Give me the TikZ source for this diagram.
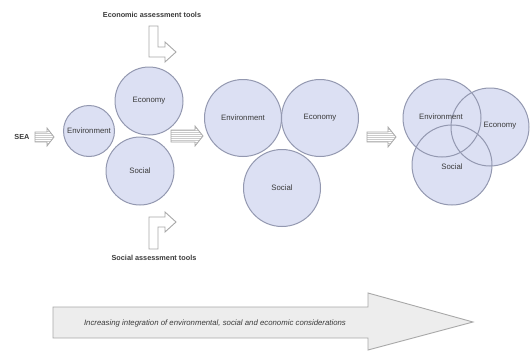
\documentclass[tikz,border=0pt]{standalone}
\usepackage{fontspec}
\setmainfont{Liberation Sans}
\definecolor{circfill}{HTML}{DCE0F3}
\definecolor{circline}{HTML}{9398B0}
\definecolor{arrline}{HTML}{A8A8A8}
\definecolor{arrfill}{HTML}{EDEDED}
\definecolor{txt}{HTML}{3A3A3A}
\newcommand{\myStripeArrow}[6]{%
  % #1 x start, #2 x head base, #3 x tip, #4 y centre, #5 half shaft, #6 half head
  \begin{scope}
    \clip (#1,#4-#5) -- (#2,#4-#5) -- (#2,#4-#6) -- (#3,#4) -- (#2,#4+#6) -- (#2,#4+#5) -- (#1,#4+#5) -- cycle;
    \fill[white] (#1,#4-#6) rectangle (#3,#4+#6);
    \foreach \k in {-8,-6,...,8} {\draw[arrline!60,line width=0.8pt] (#1,#4+\k) -- (#3,#4+\k);}
  \end{scope}
  \draw[arrline,line width=0.8pt] (#1,#4-#5) -- (#2,#4-#5) -- (#2,#4-#6) -- (#3,#4) -- (#2,#4+#6) -- (#2,#4+#5) -- (#1,#4+#5) -- cycle;
}
\tikzset{
  circ/.style={circle, fill=circfill, draw=circline, line width=1pt, inner sep=0pt, minimum size=#1, text=txt, font=\fontsize{7.8}{8}\selectfont},
  ring/.style={draw=circline, line width=1pt},
  lbl/.style={text=txt, font=\fontsize{7.8}{8}\selectfont, inner sep=0pt},
  boldlbl/.style={text=txt, font=\bfseries\fontsize{7.3}{8}\selectfont, inner sep=0pt},
  larrow/.style={fill=white, draw=arrline, line width=0.9pt, line join=miter},
  bigarrow/.style={fill=arrfill, draw=arrline, line width=0.9pt}
}
\begin{document}
\begin{tikzpicture}[x=1pt,y=-1pt]
\useasboundingbox (0,0) rectangle (530,351);

% top labels and L arrows
\node[boldlbl] (econtools) at (152,15) {Economic assessment tools};
\node[boldlbl] (soctools) at (154,258) {Social assessment tools};
\draw[larrow] (149,26) -- (158,26) -- (158,47) -- (165,47) -- (165,42) -- (176,52) -- (165,62) -- (165,57) -- (149,57) -- cycle;
\draw[larrow] (149,249) -- (149,217) -- (165,217) -- (165,212) -- (176,222) -- (165,232) -- (165,227) -- (158,227) -- (158,249) -- cycle;

% SEA
\node[boldlbl] (sea) at (22,137) {SEA};
\myStripeArrow{35}{47}{54}{137}{5}{9}

% stage 1
\node[circ=51pt] (env1) at (89,131) {Environment};
\node[circ=68pt] (eco1) at (149,101) {Economy};
\node[circ=68pt] (soc1) at (140,171) {Social};

\myStripeArrow{171}{195}{203}{136}{6}{10}

% stage 2
\node[circ=77pt] (env2) at (243,118) {Environment};
\node[circ=77pt] (eco2) at (320,118) {Economy};
\node[circ=77pt] (soc2) at (282,188) {Social};

\myStripeArrow{367}{388}{396}{137}{5}{10}

% stage 3
\node[circ=78pt, draw=none] (env3) at (442,118) {};
\node[circ=78pt, draw=none] (eco3) at (490,127) {};
\node[circ=80pt, draw=none] (soc3) at (452,165) {};
\draw[ring] (env3.center) circle[radius=39pt];
\draw[ring] (eco3.center) circle[radius=39pt];
\draw[ring] (soc3.center) circle[radius=40pt];
\node[lbl] (env3l) at (441,117) {Environment};
\node[lbl] (eco3l) at (500,126) {Economy};
\node[lbl] (soc3l) at (452,167) {Social};

% big arrow
\draw[bigarrow] (53,307) -- (368,307) -- (368,293) -- (473,322) -- (368,350) -- (368,338) -- (53,338) -- cycle;
\node[lbl, font=\itshape\fontsize{7.8}{8}\selectfont] (bigtext) at (215,323) {Increasing integration of environmental, social and economic considerations};
\end{tikzpicture}
\end{document}
